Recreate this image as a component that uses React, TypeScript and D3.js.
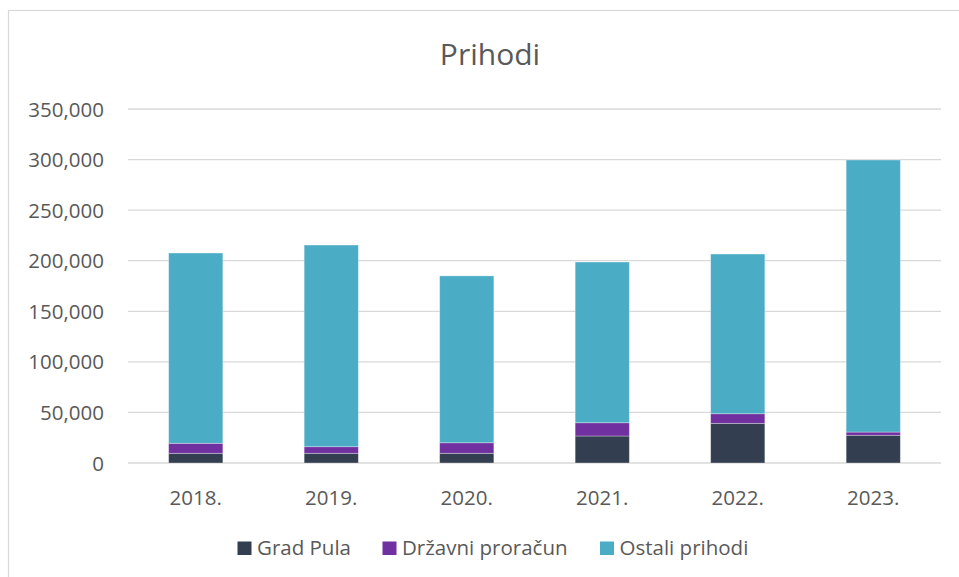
import React from 'react';
import * as d3 from 'd3';

const years = ['2018.', '2019.', '2020.', '2021.', '2022.', '2023.'];
const gradPula = [9600, 9600, 9600, 26700, 39200, 27400];
const drzavniProracun = [9900, 6500, 10400, 13100, 9500, 3200];
const ostaliPrihodi = [188100, 199400, 165000, 158900, 157900, 269000];
const yTicks = [0, 50000, 100000, 150000, 200000, 250000, 300000, 350000];

const seriesNames = ['Grad Pula', 'Državni proračun', 'Ostali prihodi'];
const seriesColors = ['#333f50', '#7030a0', '#4bacc6'];

const W = 959;
const H = 577;
const plot = { left: 128, right: 941, top: 109, bottom: 463 };
const font = '"Open Sans", sans-serif';

export default function App() {
  const rows = years.map((y, i) => ({
    year: y,
    g: gradPula[i],
    d: drzavniProracun[i],
    o: ostaliPrihodi[i],
  }));
  const stack = d3.stack<any>().keys(['g', 'd', 'o'])(rows);

  const x = d3.scaleBand().domain(years).range([plot.left, plot.right]).paddingInner(0.6).paddingOuter(0.3);
  const y = d3.scaleLinear().domain([0, 350000]).range([plot.bottom, plot.top]);
  const fmt = d3.format(',');

  // legend swatch left edges
  const legendX = [237.5, 382.5, 600];

  return (
    <svg width={W} height={H} style={{ position: 'absolute', left: 0, top: 0, background: '#fff' }}>
      <rect x={8.5} y={10.5} width={W} height={H} fill="#fff" stroke="#d9d9d9" strokeWidth={1.2} />
      <text x={490} y={65} textAnchor="middle" fontFamily={font} fontSize={30} fill="#595959">
        Prihodi
      </text>
      {yTicks.map((t) => (
        <g key={t}>
          <line x1={plot.left} x2={plot.right} y1={y(t)} y2={y(t)} stroke="#d9d9d9" strokeWidth={1.3} />
          <text x={104} y={y(t) + 7.5} textAnchor="end" fontFamily={font} fontSize={20.5} fill="#595959">
            {fmt(t)}
          </text>
        </g>
      ))}
      {stack.map((s, si) => (
        <g key={si}>
          {s.map((d, i) => (
            <rect
              key={i}
              x={x(years[i])}
              width={x.bandwidth()}
              y={y(d[1])}
              height={y(d[0]) - y(d[1])}
              fill={seriesColors[si]}
              stroke="#fff"
              strokeOpacity={0.4}
              strokeWidth={0.8}
            />
          ))}
        </g>
      ))}
      {years.map((yr) => (
        <text key={yr} x={(x(yr) || 0) + x.bandwidth() / 2} y={505} textAnchor="middle" fontFamily={font} fontSize={20.5} fill="#595959">
          {yr}
        </text>
      ))}
      {seriesNames.map((n, i) => (
        <g key={n}>
          <rect x={legendX[i]} y={541.5} width={14} height={13.5} fill={seriesColors[i]} />
          <text x={legendX[i] + 19.5} y={555} fontFamily={font} fontSize={20.5} fill="#595959">
            {n}
          </text>
        </g>
      ))}
    </svg>
  );
}
